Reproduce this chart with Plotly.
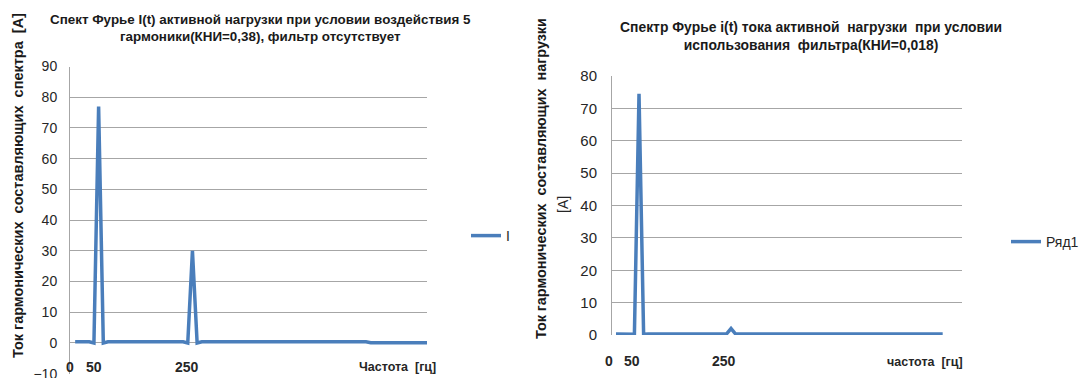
import plotly.graph_objects as go

# ---------------- data ----------------
# Left chart: spectrum of I(t) without filter (frequency, Hz -> current, A)
freq_left = [0, 10, 20, 30, 40, 50, 60, 70, 80, 90, 100, 110, 120, 130, 140, 150,
             160, 170, 180, 190, 200, 210, 220, 230, 240, 250, 260, 270, 280, 290,
             300, 310, 320, 330, 340, 350, 360, 370, 380, 390, 400, 410, 420, 430,
             440, 450, 460, 470, 480, 490, 500, 510, 520, 530, 540, 550, 560, 570,
             580, 590, 600, 610, 620, 630, 640, 650, 660, 670, 680, 690, 700, 710,
             720, 730, 740, 750]
amp_left = [0.4, 0.4, 0.4, 0.4, 0.0, 77.0, 0.0, 0.4, 0.4, 0.4, 0.4, 0.4, 0.4, 0.4,
            0.4, 0.4, 0.4, 0.4, 0.4, 0.4, 0.4, 0.4, 0.4, 0.4, 0.0, 30.0, 0.0, 0.4,
            0.4, 0.4, 0.4, 0.4, 0.4, 0.4, 0.4, 0.4, 0.4, 0.4, 0.4, 0.4, 0.4, 0.4,
            0.4, 0.4, 0.4, 0.4, 0.4, 0.4, 0.4, 0.4, 0.4, 0.4, 0.4, 0.4, 0.4, 0.4,
            0.4, 0.4, 0.4, 0.4, 0.4, 0.4, 0.4, 0.1, 0.1, 0.1, 0.1, 0.1, 0.1, 0.1,
            0.1, 0.1, 0.1, 0.1, 0.1, 0.1]

# Right chart: spectrum of i(t) with filter
freq_right = [0, 10, 20, 30, 40, 50, 60, 70, 80, 90, 100, 110, 120, 130, 140, 150,
              160, 170, 180, 190, 200, 210, 220, 230, 240, 250, 260, 270, 280, 290,
              300, 310, 320, 330, 340, 350, 360, 370, 380, 390, 400, 410, 420, 430,
              440, 450, 460, 470, 480, 490, 500, 510, 520, 530, 540, 550, 560, 570,
              580, 590, 600, 610, 620, 630, 640, 650, 660, 670, 680, 690, 700, 710]
amp_right = [0.3, 0.3, 0.3, 0.3, 0.2, 74.5, 0.2, 0.3, 0.3, 0.3, 0.3, 0.3, 0.3, 0.3,
             0.3, 0.3, 0.3, 0.3, 0.3, 0.3, 0.3, 0.3, 0.3, 0.3, 0.3, 2.0, 0.3, 0.3,
             0.3, 0.3, 0.3, 0.3, 0.3, 0.3, 0.3, 0.3, 0.3, 0.3, 0.3, 0.3, 0.3, 0.3,
             0.3, 0.3, 0.3, 0.3, 0.3, 0.3, 0.3, 0.3, 0.3, 0.3, 0.3, 0.3, 0.3, 0.3,
             0.3, 0.3, 0.3, 0.3, 0.3, 0.3, 0.3, 0.3, 0.3, 0.3, 0.3, 0.3, 0.3, 0.3,
             0.3, 0.3]

x_labels = [0, 50, 250]
left_ticks = [-10, 0, 10, 20, 30, 40, 50, 60, 70, 80, 90]
right_ticks = [0, 10, 20, 30, 40, 50, 60, 70, 80]

left_title = "Спект Фурье I(t) активной нагрузки при условии воздействия 5<br>гармоники(КНИ=0,38), фильтр отсутствует"
right_title = "Спектр Фурье i(t) тока активной  нагрузки  при условии<br>использования  фильтра(КНИ=0,018)"
left_ytitle = "Ток гармонических  составляющих  спектра  [А]"
right_ytitle_1 = "Ток гармонических  составляющих  нагрузки"
right_ytitle_2 = "[А]"
left_xtitle = "Частота  [гц]"
right_xtitle = "частота  [гц]"

# ---------------- figure ----------------
W, H = 1084, 378
LINE = "#4a7ebb"
GRID = "#a6a6a6"
FONT = "Liberation Sans"
TXT = "#262626"
BOLD_TXT = "#1a1a1a"

fig = go.Figure()
fig.add_trace(go.Scatter(x=freq_left, y=amp_left, mode="lines", name="I",
                         line=dict(color=LINE, width=3.5), xaxis="x", yaxis="y",
                         legend="legend"))
fig.add_trace(go.Scatter(x=freq_right, y=amp_right, mode="lines", name="Ряд1",
                         line=dict(color=LINE, width=3.5), xaxis="x2", yaxis="y2",
                         legend="legend2"))


def px(v):
    return v / W


def py(v):
    return (H - v) / H


common_y = dict(showgrid=True, gridcolor=GRID, gridwidth=1, showline=True,
                linecolor=GRID, linewidth=1, zeroline=False, ticks="",
                ticklabeloverflow="allow", automargin=False, fixedrange=True)
common_x = dict(showgrid=False, zeroline=False, showticklabels=False, ticks="",
                showline=False, automargin=False, fixedrange=True)

fig.update_layout(
    width=W, height=H,
    margin=dict(l=0, r=0, t=0, b=0, autoexpand=False),
    paper_bgcolor="white", plot_bgcolor="white",
    font=dict(family=FONT, color=TXT),
    xaxis=dict(domain=[px(70), px(427)], range=[-11, 750], anchor="y", **common_x),
    yaxis=dict(domain=[py(374.3), py(66.5)], range=[-10.2, 90], tickvals=left_ticks,
               anchor="x", ticklabelstandoff=9,
               tickfont=dict(family=FONT, size=14, color=TXT), **common_y),
    xaxis2=dict(domain=[px(612), px(962)], range=[-8.7, 752], anchor="y2", **common_x),
    yaxis2=dict(domain=[py(335), py(76)], range=[0, 80], tickvals=right_ticks,
                anchor="x2", ticklabelstandoff=11,
                tickfont=dict(family=FONT, size=15, color=TXT), **common_y),
    legend=dict(x=px(466), y=py(236), xanchor="left", yanchor="middle",
                font=dict(family=FONT, size=14, color=TXT), bgcolor="rgba(0,0,0,0)",
                itemwidth=30, tracegroupgap=0),
    legend2=dict(x=px(1006), y=py(242), xanchor="left", yanchor="middle",
                 font=dict(family=FONT, size=14, color=TXT), bgcolor="rgba(0,0,0,0)",
                 itemwidth=30, tracegroupgap=0),
    showlegend=True,
)

ann = []
# chart titles
ann.append(dict(text="<b>" + left_title.replace("<br>", "</b><br><b>") + "</b>",
                x=px(260), y=py(28), xref="paper", yref="paper",
                showarrow=False, xanchor="center", yanchor="middle",
                font=dict(family=FONT, size=13.4, color=BOLD_TXT), align="center"))
ann.append(dict(text="<b>" + right_title.replace("<br>", "</b><br><b>") + "</b>",
                x=px(811), y=py(36), xref="paper", yref="paper",
                showarrow=False, xanchor="center", yanchor="middle",
                font=dict(family=FONT, size=13.9, color=BOLD_TXT), align="center"))
# y axis titles
ann.append(dict(text="<b>" + left_ytitle + "</b>", x=px(18), y=py(186), xref="paper",
                yref="paper", showarrow=False, textangle=-90, xanchor="center",
                yanchor="middle", font=dict(family=FONT, size=14.5, color=BOLD_TXT)))
ann.append(dict(text="<b>" + right_ytitle_1 + "</b>", x=px(541), y=py(179), xref="paper",
                yref="paper", showarrow=False, textangle=-90, xanchor="center",
                yanchor="middle", font=dict(family=FONT, size=14.4, color=BOLD_TXT)))
ann.append(dict(text=right_ytitle_2, x=px(563), y=py(205), xref="paper",
                yref="paper", showarrow=False, textangle=-90, xanchor="center",
                yanchor="middle", font=dict(family=FONT, size=14, color=TXT)))
# x labels (frequency marks) placed on the data scale
for v in x_labels:
    ann.append(dict(text="<b>" + str(v) + "</b>", x=v, y=py(367), xref="x", yref="paper",
                    showarrow=False, xanchor="center", yanchor="middle", xshift=-5,
                    font=dict(family=FONT, size=14, color=TXT)))
    ann.append(dict(text="<b>" + str(v) + "</b>", x=v, y=py(361), xref="x2", yref="paper",
                    showarrow=False, xanchor="center", yanchor="middle", xshift=-7,
                    font=dict(family=FONT, size=14, color=TXT)))
ann.append(dict(text="<b>" + left_xtitle + "</b>", x=px(397), y=py(367), xref="paper",
                yref="paper", showarrow=False, xanchor="center", yanchor="middle",
                font=dict(family=FONT, size=12.5, color=TXT)))
ann.append(dict(text="<b>" + right_xtitle + "</b>", x=px(925), y=py(362), xref="paper",
                yref="paper", showarrow=False, xanchor="center", yanchor="middle",
                font=dict(family=FONT, size=12.5, color=TXT)))
fig.update_layout(annotations=ann)

fig.write_html("out.html", config={"displayModeBar": False},
               post_script="document.body.style.margin='0';document.body.style.overflow='hidden';")
